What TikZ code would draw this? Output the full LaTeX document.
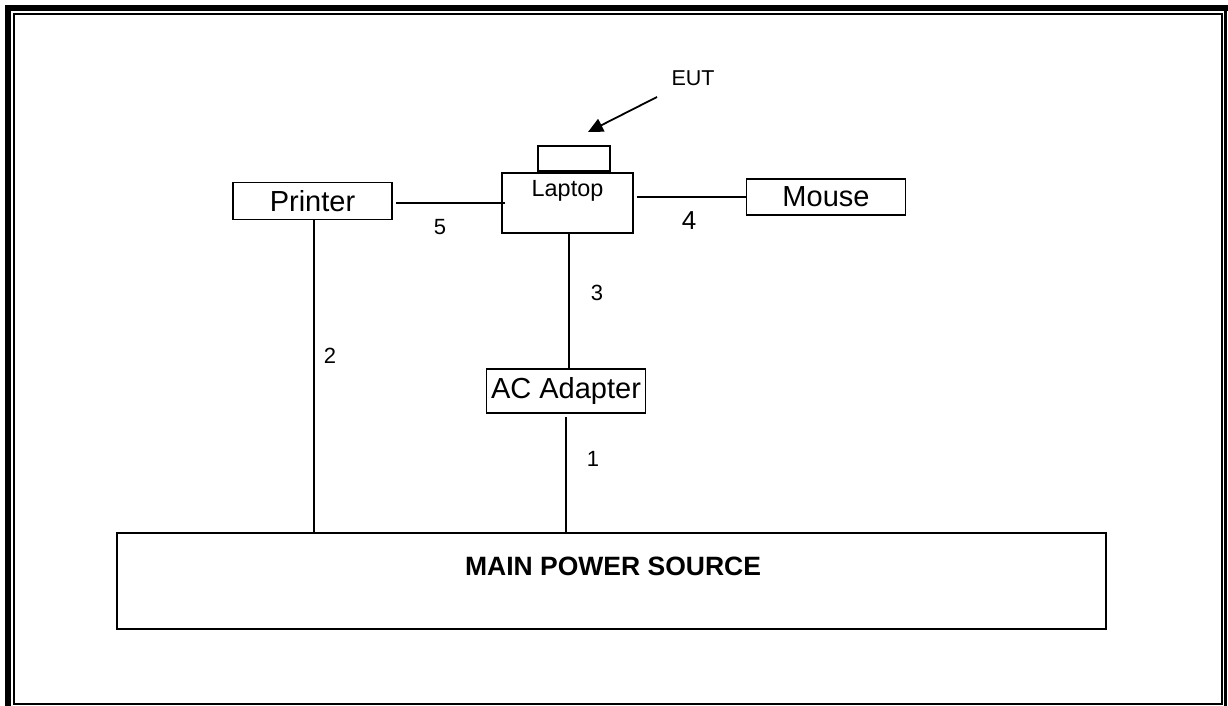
\documentclass[tikz,border=0pt]{standalone}
\usepackage{fontspec}
\setmainfont{Liberation Sans}
\usetikzlibrary{arrows.meta, positioning, calc}

\begin{document}
\begin{tikzpicture}[
  x=1pt, y=-1pt,
  unit/.style={draw, line width=1.8pt, inner sep=0pt, align=center},
  big/.style={font=\fontsize{29}{32}\selectfont},
  txt/.style={inner sep=0pt},
  num/.style={inner sep=0pt, font=\fontsize{22}{26}\selectfont},
  wire/.style={line width=1.6pt},
  arr/.style={-{Triangle[length=15pt, width=14pt]}, line width=1.8pt}
]
\useasboundingbox (0,0) rectangle (1228,706);

%% ---- page border ----
\draw[line width=6pt] (8,5) -- (8,706);
\draw[line width=6pt] (5,8) -- (1228,8);
\draw[line width=2pt] (14,14) rectangle (1221.5,703.5);
\draw[line width=2.5pt] (1225.5,5) -- (1225.5,706);

%% ---- equipment ----
\node[unit, minimum width=131pt, minimum height=60pt] (laptop) at (567.5,203) {};
\node[unit, minimum width=72pt, minimum height=25pt, anchor=south] (lid) at ([xshift=6.5pt]laptop.north) {};
\node[txt, anchor=base, font=\fontsize{23.4}{26}\selectfont] (laptoplbl) at (567.5,196.5) {Laptop};

\node[unit, big, minimum width=159pt, minimum height=37pt] (printer) at (312.5,201) {Printer};
\node[unit, big, minimum width=159pt, minimum height=36pt] (mouse) at (826,197) {Mouse};
\node[unit, big, minimum width=159pt, minimum height=44pt] (adapter) at (566,391) {AC Adapter};

\node[unit, minimum width=989pt, minimum height=96pt] (mains) at (611.5,581) {};
\node[txt, font=\fontsize{26.5}{30}\selectfont\bfseries] (mainslbl) at (613,566) {MAIN POWER SOURCE};

% EUT pointer
\node[txt, font=\fontsize{21.5}{24}\selectfont] (eut) at (693,78) {EUT};
\coordinate (euttail) at (657,97);
\coordinate (euthead) at (588,132);
\draw[arr] (euttail) -- (euthead);

%% ---- cables ----
\draw[wire] ([xshift=3pt]printer.east |- laptop.west) -- ([xshift=4pt]laptop.west);
\draw[wire] ([xshift=3pt]laptop.east |- mouse.west) -- (mouse.west);
\draw[wire] ([xshift=1.5pt]laptop.south) -- ([xshift=1.5pt]laptop.south |- adapter.north);
\draw[wire] ([yshift=-3pt]adapter.south) -- (adapter.south |- mains.north);
\draw[wire] ([xshift=1.5pt]printer.south) -- ([xshift=1.5pt]printer.south |- mains.north);

\node[num] (n1) at (593,459) {1};
\node[num] (n2) at (330,356) {2};
\node[num] (n3) at (597,293) {3};
\node[num, font=\fontsize{26}{30}\selectfont] (n4) at (689,221) {4};
\node[num] (n5) at (440,227) {5};

\end{tikzpicture}
\end{document}
